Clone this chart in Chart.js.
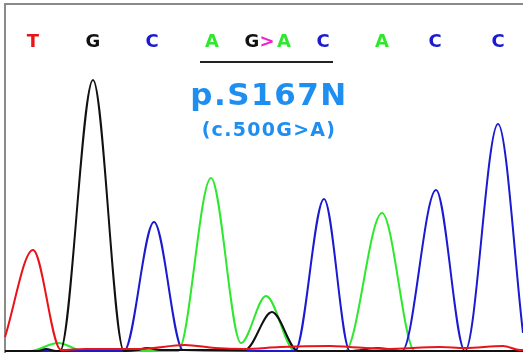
<!DOCTYPE html>
<html>
<head>
<meta charset="utf-8">
<script src="https://cdn.jsdelivr.net/npm/chart.js@4.4.1/dist/chart.umd.min.js"></script>
<style>
  html, body { margin: 0; padding: 0; background: #fff; }
  #wrap { position: relative; width: 523px; height: 353px; overflow: hidden; }
  #frame { position: absolute; left: 4px; top: 3px; width: 530px; height: 348px;
           border-left: 2px solid #8a8a8a; border-top: 2px solid #8a8a8a; border-bottom: 1px solid #9a9aa8; }
  canvas { position: absolute; left: 0; top: 0; }
  .base { position: absolute; top: 32px; font: bold 18px "DejaVu Sans", sans-serif;
          line-height: 18px; transform: translateX(-50%); }
  #rule { position: absolute; left: 200px; top: 61px; width: 133px; height: 0; border-top: 2px solid #222; }
  .title { position: absolute; left: 0; width: 538px; text-align: center; color: #1f8ef1;
           font-family: "DejaVu Sans", Verdana, sans-serif; font-weight: bold; }
  #t1 { top: 79px; font-size: 31px; line-height: 31px; letter-spacing: 1.5px; }
  #t2 { top: 120px; font-size: 19px; line-height: 19px; letter-spacing: 1.3px; }
</style>
</head>
<body>
<div id="wrap">
  <div id="frame"></div>
  <canvas id="trace" width="523" height="353"></canvas>
  <div id="rule"></div>
  <div class="title" id="t1">p.S167N</div>
  <div class="title" id="t2">(c.500G&gt;A)</div>
</div>
<script>
// base calls shown above the trace (position on the scan axis)
var baseLabels = ["T", "G", "C", "A", "G", ">", "A", "C", "A", "C", "C"];
var basePos = [33, 93, 152, 212, 252, 267, 284, 323, 382, 435, 498];
var baseColors = ["#e8141a", "#111111", "#1a1ad0", "#2ee82e", "#111111", "#ee22cc", "#2ee82e", "#1a1ad0", "#2ee82e", "#1a1ad0", "#1a1ad0"];

// signal per channel: [scan position, intensity]
var traceT = [[5, 14], [33, 101], [61, 1], [85, 2], [110, 2], [140, 2], [185, 6], [215, 3], [245, 2], [280, 4],
              [330, 5], [350, 4], [385, 2], [440, 4], [465, 3], [503, 5], [520, 1], [523, 1]];
var traceG = [[5, 0], [38, 0], [46, 2], [56, 0], [60, 0], [93, 271], [124, 0], [138, 1], [147, 3], [160, 1],
              [245, 1], [272, 39], [298, 0], [523, 0]];
var traceC = [[5, 0], [124, 0], [154, 129], [183, 1], [295, 0], [324, 152], [350, 0], [378, 3], [402, 0],
              [436, 161], [465, 0], [498, 227], [523, 18]];
var traceA = [[5, 0], [30, 0], [58, 8], [84, 0], [178, 0], [211, 173], [241, 8], [266, 55], [295, 0],
              [345, 0], [382, 138], [415, 0], [523, 0]];

function toPoints(arr) {
    return arr.map(function (p) { return { x: p[0], y: p[1] }; });
}

function channel(label, arr, color) {
    return {
        label: label,
        data: toPoints(arr),
        borderColor: color,
        borderWidth: 2,
        pointRadius: 0,
        fill: false,
        clip: false,
        cubicInterpolationMode: "monotone"
    };
}

var ctx = document.getElementById("trace").getContext("2d");

var chart = new Chart(ctx, {
    type: "line",
    data: {
        datasets: [
            channel("T", traceT, "#e8141a"),
            channel("G", traceG, "#111111"),
            channel("C", traceC, "#1a1ad0"),
            channel("A", traceA, "#2ee82e")
        ]
    },
    options: {
        responsive: false,
        animation: false,
        layout: { padding: { left: 5, right: 0, top: 4, bottom: 2 } },
        scales: {
            x: { type: "linear", min: 5, max: 523, display: false },
            y: { min: 0, max: 347, display: false }
        },
        plugins: {
            legend: { display: false },
            tooltip: { enabled: false }
        }
    }
});

// put the base call letters over their peaks
var wrap = document.getElementById("wrap");
for (var i = 0; i < baseLabels.length; i++) {
    var s = document.createElement("span");
    s.className = "base";
    s.textContent = baseLabels[i];
    s.style.color = baseColors[i];
    s.style.left = chart.scales.x.getPixelForValue(basePos[i]) + "px";
    wrap.appendChild(s);
}
</script>
</body>
</html>
